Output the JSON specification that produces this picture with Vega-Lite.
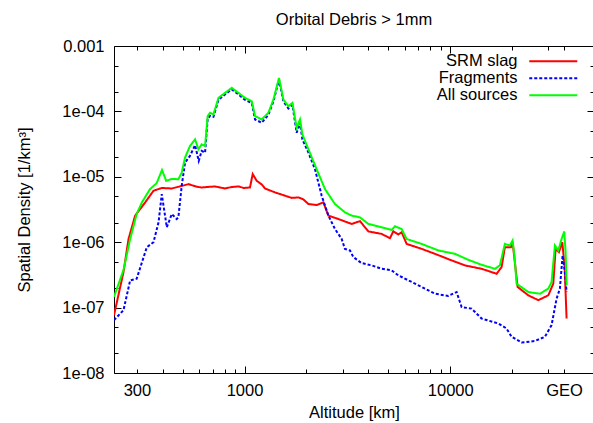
{
 "$schema": "https://vega.github.io/schema/vega-lite/v6.json",
 "width": 480, "height": 327,
 "padding": {"left": 16, "top": 11, "right": 0, "bottom": 0},
 "title": {"text": "Orbital Debris > 1mm", "fontSize": 16.5, "fontWeight": "normal", "font": "Liberation Sans", "color": "black", "offset": 10, "anchor": "middle"},
 "config": {
  "view": {"stroke": "black", "strokeWidth": 1},
  "font": "Liberation Sans",
  "axis": {"grid": false, "domain": false, "domainColor": "black", "tickColor": "black", "tickWidth": 1, "labelColor": "black", "titleColor": "black", "labelFontSize": 16.5, "titleFontSize": 16.5, "titleFontWeight": "normal", "labelFont": "Liberation Sans", "titleFont": "Liberation Sans", "labelOverlap": false, "labelFlush": false, "minExtent": 0}
 },
 "data": {"values": [
  {"source":"SRM slag","altitude":232,"density":7.66e-8},
  {"source":"SRM slag","altitude":258,"density":3.49e-7},
  {"source":"SRM slag","altitude":273,"density":1.12e-6},
  {"source":"SRM slag","altitude":294,"density":2.55e-6},
  {"source":"SRM slag","altitude":329,"density":4.06e-6},
  {"source":"SRM slag","altitude":361,"density":6.12e-6},
  {"source":"SRM slag","altitude":396,"density":6.75e-6},
  {"source":"SRM slag","altitude":443,"density":6.63e-6},
  {"source":"SRM slag","altitude":484,"density":7.12e-6},
  {"source":"SRM slag","altitude":534,"density":7.72e-6},
  {"source":"SRM slag","altitude":586,"density":7.04e-6},
  {"source":"SRM slag","altitude":619,"density":6.87e-6},
  {"source":"SRM slag","altitude":662,"density":6.99e-6},
  {"source":"SRM slag","altitude":719,"density":7.12e-6},
  {"source":"SRM slag","altitude":804,"density":6.63e-6},
  {"source":"SRM slag","altitude":867,"density":6.99e-6},
  {"source":"SRM slag","altitude":934,"density":7.12e-6},
  {"source":"SRM slag","altitude":991,"density":6.75e-6},
  {"source":"SRM slag","altitude":1063,"density":6.87e-6},
  {"source":"SRM slag","altitude":1096,"density":1.10e-5},
  {"source":"SRM slag","altitude":1146,"density":8.69e-6},
  {"source":"SRM slag","altitude":1212,"density":7.64e-6},
  {"source":"SRM slag","altitude":1258,"density":6.63e-6},
  {"source":"SRM slag","altitude":1407,"density":5.77e-6},
  {"source":"SRM slag","altitude":1573,"density":5.14e-6},
  {"source":"SRM slag","altitude":1696,"density":4.76e-6},
  {"source":"SRM slag","altitude":1828,"density":4.84e-6},
  {"source":"SRM slag","altitude":1933,"density":4.51e-6},
  {"source":"SRM slag","altitude":2045,"density":3.83e-6},
  {"source":"SRM slag","altitude":2243,"density":3.70e-6},
  {"source":"SRM slag","altitude":2418,"density":4.06e-6},
  {"source":"SRM slag","altitude":2557,"density":2.55e-6},
  {"source":"SRM slag","altitude":2860,"density":2.26e-6},
  {"source":"SRM slag","altitude":3318,"density":1.90e-6},
  {"source":"SRM slag","altitude":3641,"density":2.10e-6},
  {"source":"SRM slag","altitude":4000,"density":1.46e-6},
  {"source":"SRM slag","altitude":4642,"density":1.34e-6},
  {"source":"SRM slag","altitude":5094,"density":1.15e-6},
  {"source":"SRM slag","altitude":5291,"density":1.47e-6},
  {"source":"SRM slag","altitude":5595,"density":1.31e-6},
  {"source":"SRM slag","altitude":5806,"density":1.42e-6},
  {"source":"SRM slag","altitude":6140,"density":9.42e-7},
  {"source":"SRM slag","altitude":7262,"density":7.91e-7},
  {"source":"SRM slag","altitude":8427,"density":6.64e-7},
  {"source":"SRM slag","altitude":10160,"density":5.27e-7},
  {"source":"SRM slag","altitude":11790,"density":4.42e-7},
  {"source":"SRM slag","altitude":14210,"density":3.92e-7},
  {"source":"SRM slag","altitude":16810,"density":3.29e-7},
  {"source":"SRM slag","altitude":17770,"density":4.16e-7},
  {"source":"SRM slag","altitude":18440,"density":8.39e-7},
  {"source":"SRM slag","altitude":19720,"density":8.39e-7},
  {"source":"SRM slag","altitude":20100,"density":1.00e-6},
  {"source":"SRM slag","altitude":20560,"density":5.32e-7},
  {"source":"SRM slag","altitude":21260,"density":2.07e-7},
  {"source":"SRM slag","altitude":23960,"density":1.54e-7},
  {"source":"SRM slag","altitude":26800,"density":1.30e-7},
  {"source":"SRM slag","altitude":29980,"density":1.54e-7},
  {"source":"SRM slag","altitude":31700,"density":2.32e-7},
  {"source":"SRM slag","altitude":32530,"density":7.91e-7},
  {"source":"SRM slag","altitude":33750,"density":7.04e-7},
  {"source":"SRM slag","altitude":35060,"density":1.00e-6},
  {"source":"SRM slag","altitude":35990,"density":4.16e-7},
  {"source":"SRM slag","altitude":36790,"density":6.80e-8},

  {"source":"Fragments","altitude":232,"density":6.43e-8},
  {"source":"Fragments","altitude":258,"density":9.13e-8},
  {"source":"Fragments","altitude":278,"density":2.61e-7},
  {"source":"Fragments","altitude":299,"density":2.76e-7},
  {"source":"Fragments","altitude":335,"density":8.39e-7},
  {"source":"Fragments","altitude":361,"density":1.00e-6},
  {"source":"Fragments","altitude":382,"density":2.01e-6},
  {"source":"Fragments","altitude":396,"density":5.43e-6},
  {"source":"Fragments","altitude":419,"density":1.69e-6},
  {"source":"Fragments","altitude":443,"density":2.70e-6},
  {"source":"Fragments","altitude":468,"density":2.26e-6},
  {"source":"Fragments","altitude":477,"density":2.40e-6},
  {"source":"Fragments","altitude":495,"density":7.29e-6},
  {"source":"Fragments","altitude":514,"density":1.65e-5},
  {"source":"Fragments","altitude":543,"density":2.09e-5},
  {"source":"Fragments","altitude":575,"density":3.05e-5},
  {"source":"Fragments","altitude":599,"density":1.75e-5},
  {"source":"Fragments","altitude":619,"density":2.49e-5},
  {"source":"Fragments","altitude":643,"density":2.34e-5},
  {"source":"Fragments","altitude":662,"density":7.72e-5},
  {"source":"Fragments","altitude":680,"density":8.57e-5},
  {"source":"Fragments","altitude":706,"density":8.27e-5},
  {"source":"Fragments","altitude":747,"density":1.50e-4},
  {"source":"Fragments","altitude":804,"density":1.82e-4},
  {"source":"Fragments","altitude":867,"density":2.17e-4},
  {"source":"Fragments","altitude":934,"density":1.82e-4},
  {"source":"Fragments","altitude":1006,"density":1.50e-4},
  {"source":"Fragments","altitude":1084,"density":1.35e-4},
  {"source":"Fragments","altitude":1125,"density":7.53e-5},
  {"source":"Fragments","altitude":1212,"density":6.71e-5},
  {"source":"Fragments","altitude":1306,"density":8.88e-5},
  {"source":"Fragments","altitude":1382,"density":1.42e-4},
  {"source":"Fragments","altitude":1471,"density":3.06e-4},
  {"source":"Fragments","altitude":1545,"density":1.42e-4},
  {"source":"Fragments","altitude":1634,"density":1.11e-4},
  {"source":"Fragments","altitude":1709,"density":1.26e-4},
  {"source":"Fragments","altitude":1793,"density":4.72e-5},
  {"source":"Fragments","altitude":1861,"density":6.71e-5},
  {"source":"Fragments","altitude":1911,"density":3.73e-5},
  {"source":"Fragments","altitude":2045,"density":2.34e-5},
  {"source":"Fragments","altitude":2201,"density":1.30e-5},
  {"source":"Fragments","altitude":2372,"density":5.14e-6},
  {"source":"Fragments","altitude":2557,"density":2.55e-6},
  {"source":"Fragments","altitude":2753,"density":1.59e-6},
  {"source":"Fragments","altitude":2967,"density":1.12e-6},
  {"source":"Fragments","altitude":3078,"density":7.91e-7},
  {"source":"Fragments","altitude":3255,"density":7.48e-7},
  {"source":"Fragments","altitude":3382,"density":5.91e-7},
  {"source":"Fragments","altitude":3711,"density":4.79e-7},
  {"source":"Fragments","altitude":4151,"density":4.42e-7},
  {"source":"Fragments","altitude":4642,"density":3.92e-7},
  {"source":"Fragments","altitude":5192,"density":3.71e-7},
  {"source":"Fragments","altitude":5595,"density":3.11e-7},
  {"source":"Fragments","altitude":6258,"density":2.61e-7},
  {"source":"Fragments","altitude":7262,"density":2.07e-7},
  {"source":"Fragments","altitude":8427,"density":1.63e-7},
  {"source":"Fragments","altitude":9790,"density":1.51e-7},
  {"source":"Fragments","altitude":10740,"density":1.73e-7},
  {"source":"Fragments","altitude":11360,"density":1.02e-7},
  {"source":"Fragments","altitude":12700,"density":9.65e-8},
  {"source":"Fragments","altitude":14210,"density":6.80e-8},
  {"source":"Fragments","altitude":17130,"density":5.71e-8},
  {"source":"Fragments","altitude":18790,"density":4.79e-8},
  {"source":"Fragments","altitude":19870,"density":3.58e-8},
  {"source":"Fragments","altitude":22230,"density":2.93e-8},
  {"source":"Fragments","altitude":25790,"density":3.08e-8},
  {"source":"Fragments","altitude":28860,"density":3.58e-8},
  {"source":"Fragments","altitude":31100,"density":5.40e-8},
  {"source":"Fragments","altitude":32890,"density":1.37e-7},
  {"source":"Fragments","altitude":34130,"density":1.95e-7},
  {"source":"Fragments","altitude":35180,"density":6.27e-7},
  {"source":"Fragments","altitude":36090,"density":3.49e-7},
  {"source":"Fragments","altitude":36790,"density":1.73e-7},

  {"source":"All sources","altitude":232,"density":1.46e-7},
  {"source":"All sources","altitude":258,"density":3.75e-7},
  {"source":"All sources","altitude":278,"density":1.12e-6},
  {"source":"All sources","altitude":299,"density":2.70e-6},
  {"source":"All sources","altitude":317,"density":4.06e-6},
  {"source":"All sources","altitude":347,"density":6.48e-6},
  {"source":"All sources","altitude":374,"density":7.99e-6},
  {"source":"All sources","altitude":397,"density":1.27e-5},
  {"source":"All sources","altitude":416,"density":8.69e-6},
  {"source":"All sources","altitude":443,"density":9.26e-6},
  {"source":"All sources","altitude":477,"density":9.19e-6},
  {"source":"All sources","altitude":495,"density":1.16e-5},
  {"source":"All sources","altitude":514,"density":1.97e-5},
  {"source":"All sources","altitude":543,"density":2.96e-5},
  {"source":"All sources","altitude":575,"density":3.73e-5},
  {"source":"All sources","altitude":597,"density":2.63e-5},
  {"source":"All sources","altitude":619,"density":3.13e-5},
  {"source":"All sources","altitude":643,"density":2.96e-5},
  {"source":"All sources","altitude":662,"density":8.48e-5},
  {"source":"All sources","altitude":680,"density":9.52e-5},
  {"source":"All sources","altitude":706,"density":8.97e-5},
  {"source":"All sources","altitude":747,"density":1.61e-4},
  {"source":"All sources","altitude":804,"density":1.92e-4},
  {"source":"All sources","altitude":867,"density":2.29e-4},
  {"source":"All sources","altitude":934,"density":1.92e-4},
  {"source":"All sources","altitude":1006,"density":1.61e-4},
  {"source":"All sources","altitude":1084,"density":1.43e-4},
  {"source":"All sources","altitude":1125,"density":8.48e-5},
  {"source":"All sources","altitude":1212,"density":7.53e-5},
  {"source":"All sources","altitude":1306,"density":9.52e-5},
  {"source":"All sources","altitude":1382,"density":1.52e-4},
  {"source":"All sources","altitude":1471,"density":3.25e-4},
  {"source":"All sources","altitude":1545,"density":1.52e-4},
  {"source":"All sources","altitude":1634,"density":1.20e-4},
  {"source":"All sources","altitude":1709,"density":1.35e-4},
  {"source":"All sources","altitude":1793,"density":5.63e-5},
  {"source":"All sources","altitude":1861,"density":7.53e-5},
  {"source":"All sources","altitude":1911,"density":4.45e-5},
  {"source":"All sources","altitude":2045,"density":2.63e-5},
  {"source":"All sources","altitude":2243,"density":1.30e-5},
  {"source":"All sources","altitude":2462,"density":6.48e-6},
  {"source":"All sources","altitude":2753,"density":3.83e-6},
  {"source":"All sources","altitude":3078,"density":2.86e-6},
  {"source":"All sources","altitude":3318,"density":2.55e-6},
  {"source":"All sources","altitude":3641,"density":2.40e-6},
  {"source":"All sources","altitude":4000,"density":1.90e-6},
  {"source":"All sources","altitude":4642,"density":1.69e-6},
  {"source":"All sources","altitude":5192,"density":1.54e-6},
  {"source":"All sources","altitude":5387,"density":1.75e-6},
  {"source":"All sources","altitude":5806,"density":1.59e-6},
  {"source":"All sources","altitude":6140,"density":1.12e-6},
  {"source":"All sources","altitude":7262,"density":9.42e-7},
  {"source":"All sources","altitude":8754,"density":7.48e-7},
  {"source":"All sources","altitude":10540,"density":6.64e-7},
  {"source":"All sources","altitude":12240,"density":5.38e-7},
  {"source":"All sources","altitude":14210,"density":4.51e-7},
  {"source":"All sources","altitude":16490,"density":3.92e-7},
  {"source":"All sources","altitude":17430,"density":4.42e-7},
  {"source":"All sources","altitude":18440,"density":9.42e-7},
  {"source":"All sources","altitude":19500,"density":8.91e-7},
  {"source":"All sources","altitude":20100,"density":1.06e-6},
  {"source":"All sources","altitude":20560,"density":5.91e-7},
  {"source":"All sources","altitude":21020,"density":2.32e-7},
  {"source":"All sources","altitude":23960,"density":1.73e-7},
  {"source":"All sources","altitude":27290,"density":1.63e-7},
  {"source":"All sources","altitude":29980,"density":1.95e-7},
  {"source":"All sources","altitude":31100,"density":2.46e-7},
  {"source":"All sources","altitude":32270,"density":8.91e-7},
  {"source":"All sources","altitude":33520,"density":7.48e-7},
  {"source":"All sources","altitude":34780,"density":1.12e-6},
  {"source":"All sources","altitude":35850,"density":1.46e-6},
  {"source":"All sources","altitude":36370,"density":7.04e-7},
  {"source":"All sources","altitude":36790,"density":2.19e-7}
 ]},
 "resolve": {"axis": {"x": "independent", "y": "independent"}},
 "layer": [
  {
   "mark": {"type": "line", "strokeWidth": 2, "clip": true},
   "encoding": {
    "x": {"field": "altitude", "type": "quantitative",
     "scale": {"type": "log", "domain": [232, 50000], "nice": false},
     "axis": {"orient": "bottom", "title": "Altitude [km]", "titlePadding": 6, "labelPadding": 9, "ticks": false,
      "values": [300, 1000, 10000, 35786],
      "labelExpr": "datum.value == 35786 ? 'GEO' : format(datum.value, 'd')"}},
    "y": {"field": "density", "type": "quantitative",
     "scale": {"type": "log", "domain": [1e-8, 0.001], "nice": false},
     "axis": {"orient": "left", "title": "Spatial Density [1/km³]", "titlePadding": 29, "labelPadding": 10, "ticks": false,
      "values": [1e-8, 1e-7, 1e-6, 1e-5, 1e-4, 0.001],
      "labelExpr": "datum.value > 0.0005 ? '0.001' : '1e-0' + (-round(log(datum.value)/LN10))"}},
    "color": {"field": "source", "type": "nominal",
     "scale": {"domain": ["SRM slag", "Fragments", "All sources"], "range": ["#ff0000", "#0000ff", "#00ff00"]},
     "legend": {"orient": "none", "legendX": 402, "legendY": 7, "title": null, "symbolType": "M-4,0L4,0", "symbolSize": 144, "symbolStrokeWidth": 2, "labelAlign": "right", "symbolOffset": 29, "labelOffset": -44, "rowPadding": -1.3, "labelFontSize": 16.5, "labelFont": "Liberation Sans", "labelColor": "black", "padding": 0}},
    "strokeDash": {"field": "source", "type": "nominal",
     "scale": {"domain": ["SRM slag", "Fragments", "All sources"], "range": [[1, 0], [3, 2], [1, 0]]},
     "legend": {"orient": "none", "legendX": 402, "legendY": 7, "title": null, "symbolType": "M-4,0L4,0", "symbolSize": 144, "symbolStrokeWidth": 2, "labelAlign": "right", "symbolOffset": 29, "labelOffset": -44, "rowPadding": -1.3, "labelFontSize": 16.5, "labelFont": "Liberation Sans", "labelColor": "black", "padding": 0}}
   }
  },
  {
   "mark": {"type": "line", "opacity": 0},
   "encoding": {
    "x": {"field": "altitude", "type": "quantitative", "scale": {"type": "log", "domain": [232, 50000], "nice": false},
     "axis": {"orient": "bottom", "title": null, "labels": false, "offset": -7, "tickSize": 7, "maxExtent": 0, "values": [1000, 10000]}},
    "y": {"field": "density", "type": "quantitative", "scale": {"type": "log", "domain": [1e-8, 0.001], "nice": false},
     "axis": {"orient": "left", "title": null, "labels": false, "offset": -7, "tickSize": 7, "maxExtent": 0, "values": [1e-8, 1e-7, 1e-6, 1e-5, 1e-4, 0.001]}},
    "detail": {"field": "source", "type": "nominal"}
   }
  },
  {
   "mark": {"type": "line", "opacity": 0},
   "encoding": {
    "x": {"field": "altitude", "type": "quantitative", "scale": {"type": "log", "domain": [232, 50000], "nice": false},
     "axis": {"orient": "bottom", "title": null, "labels": false, "offset": -4, "tickSize": 4, "maxExtent": 0, "values": [300, 400, 500, 600, 700, 800, 900, 2000, 3000, 4000, 5000, 6000, 7000, 8000, 9000, 20000, 30000, 35786]}},
    "y": {"field": "density", "type": "quantitative", "scale": {"type": "log", "domain": [1e-8, 0.001], "nice": false},
     "axis": {"orient": "left", "title": null, "labels": false, "offset": -4, "tickSize": 4, "maxExtent": 0, "values": [2e-8, 5e-8, 2e-7, 5e-7, 2e-6, 5e-6, 2e-5, 5e-5, 2e-4, 5e-4]}},
    "detail": {"field": "source", "type": "nominal"}
   }
  },
  {
   "mark": {"type": "line", "opacity": 0},
   "encoding": {
    "x": {"field": "altitude", "type": "quantitative", "scale": {"type": "log", "domain": [232, 50000], "nice": false},
     "axis": {"orient": "top", "title": null, "labels": false, "offset": -7, "tickSize": 7, "maxExtent": 0, "values": [1000, 10000]}},
    "y": {"field": "density", "type": "quantitative", "scale": {"type": "log", "domain": [1e-8, 0.001], "nice": false},
     "axis": {"orient": "right", "title": null, "labels": false, "offset": -7, "tickSize": 7, "maxExtent": 0, "values": [1e-8, 1e-7, 1e-6, 1e-5, 1e-4, 0.001]}},
    "detail": {"field": "source", "type": "nominal"}
   }
  },
  {
   "mark": {"type": "line", "opacity": 0},
   "encoding": {
    "x": {"field": "altitude", "type": "quantitative", "scale": {"type": "log", "domain": [232, 50000], "nice": false},
     "axis": {"orient": "top", "title": null, "labels": false, "offset": -4, "tickSize": 4, "maxExtent": 0, "values": [300, 400, 500, 600, 700, 800, 900, 2000, 3000, 4000, 5000, 6000, 7000, 8000, 9000, 20000, 30000, 35786]}},
    "y": {"field": "density", "type": "quantitative", "scale": {"type": "log", "domain": [1e-8, 0.001], "nice": false},
     "axis": {"orient": "right", "title": null, "labels": false, "offset": -4, "tickSize": 4, "maxExtent": 0, "values": [2e-8, 5e-8, 2e-7, 5e-7, 2e-6, 5e-6, 2e-5, 5e-5, 2e-4, 5e-4]}},
    "detail": {"field": "source", "type": "nominal"}
   }
  }
 ]
}
